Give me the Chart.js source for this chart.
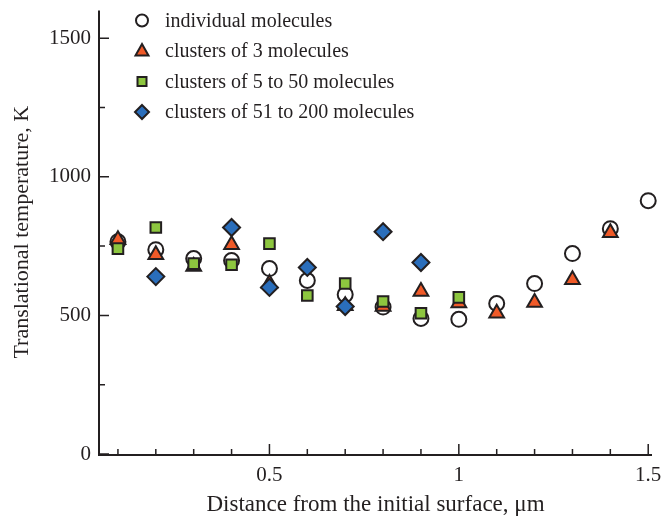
<!DOCTYPE html>
<html>
<head>
<meta charset="utf-8">
<script src="https://cdn.jsdelivr.net/npm/chart.js@4.4.0/dist/chart.umd.min.js"></script>
<style>
html, body { margin: 0; padding: 0; background: #fff; }
#wrap { width: 665px; height: 519px; }
</style>
</head>
<body>
<div id="wrap"><canvas id="chart"></canvas></div>
<script>
// Distance from the initial surface (um) and translational temperature (K)
const singleX = [0.1, 0.2, 0.3, 0.4, 0.5, 0.6, 0.7, 0.8, 0.9, 1.0, 1.1, 1.2, 1.3, 1.4, 1.5]
const singleT = [766, 737, 705, 698, 669, 626, 575, 530, 489, 486, 543, 615, 723, 813, 914]

const tripleX = [0.1, 0.2, 0.3, 0.4, 0.5, 0.7, 0.8, 0.9, 1.0, 1.1, 1.2, 1.3, 1.4]
const tripleT = [773, 719, 676, 755, 615, 535, 532, 586, 545, 508, 547, 629, 798]

const smallX = [0.1, 0.2, 0.3, 0.4, 0.5, 0.6, 0.7, 0.8, 0.9, 1.0]
const smallT = [741, 817, 687, 683, 759, 572, 615, 550, 508, 565]

const largeX = [0.2, 0.4, 0.5, 0.6, 0.7, 0.8, 0.9]
const largeT = [640, 817, 601, 673, 532, 802, 691]

const seriesNames = [
  'individual molecules',
  'clusters of 3 molecules',
  'clusters of 5 to 50 molecules',
  'clusters of 51 to 200 molecules'
]

const xMajorTicks = [0.5, 1, 1.5]
const xMinorTicks = [0.1, 0.2, 0.3, 0.4, 0.6, 0.7, 0.8, 0.9, 1.1, 1.2, 1.3, 1.4]
const yMajorTicks = [0, 500, 1000, 1500]
const yMinorTicks = [250, 750, 1250]

const FONT = '"Liberation Serif", "Times New Roman", serif'
const INK = '#231f20'
const colors = ['#ffffff', '#f05a28', '#8dc63f', '#2a6ebb']
const shapes = ['circle', 'triangle', 'rect', 'rectRot']
const radii = [7.5, 8.5, 7.5, 8.5]

function toPoints (xs, ys) {
  return xs.map((x, i) => ({ x: x, y: ys[i] }))
}

const seriesData = [
  toPoints(singleX, singleT),
  toPoints(tripleX, tripleT),
  toPoints(smallX, smallT),
  toPoints(largeX, largeT)
]

// circles at the bottom, diamonds on top
const datasets = seriesData.map((data, i) => ({
  label: seriesNames[i],
  data: data,
  pointStyle: shapes[i],
  pointRadius: radii[i],
  pointHoverRadius: radii[i],
  backgroundColor: colors[i],
  borderColor: INK,
  borderWidth: 2,
  clip: false,
  order: 4 - i
}))

// inward tick marks and a small legend inside the plot
const axisDecor = {
  id: 'axisDecor',
  afterDraw (chart) {
    const ctx = chart.ctx
    const xs = chart.scales.x
    const ys = chart.scales.y
    const area = chart.chartArea
    ctx.save()
    ctx.strokeStyle = INK
    ctx.lineWidth = 2

    ctx.beginPath()
    ctx.moveTo(area.left, area.top)
    ctx.lineTo(area.left, area.bottom + 1)
    ctx.lineTo(area.right, area.bottom + 1)
    ctx.stroke()

    ctx.lineWidth = 1.5
    ctx.beginPath()
    xMajorTicks.forEach(v => {
      const px = xs.getPixelForValue(v)
      ctx.moveTo(px, area.bottom)
      ctx.lineTo(px, area.bottom - 10)
    })
    xMinorTicks.forEach(v => {
      const px = xs.getPixelForValue(v)
      ctx.moveTo(px, area.bottom)
      ctx.lineTo(px, area.bottom - 5)
    })
    yMajorTicks.forEach(v => {
      const py = ys.getPixelForValue(v)
      ctx.moveTo(area.left, py)
      ctx.lineTo(area.left + 10, py)
    })
    yMinorTicks.forEach(v => {
      const py = ys.getPixelForValue(v)
      ctx.moveTo(area.left, py)
      ctx.lineTo(area.left + 6, py)
    })
    ctx.stroke()

    // Legend
    const lx = area.left + 43
    const tx = area.left + 66
    const rowTop = area.top + 10
    const rowGap = 30.5
    ctx.font = '20px ' + FONT
    ctx.textBaseline = 'middle'
    ctx.textAlign = 'left'
    seriesNames.forEach((name, i) => {
      const y = rowTop + i * rowGap
      ctx.lineWidth = 2
      ctx.strokeStyle = INK
      ctx.fillStyle = colors[i]
      ctx.beginPath()
      if (i === 0) {
        ctx.arc(lx, y, 6, 0, Math.PI * 2)
      } else if (i === 1) {
        ctx.moveTo(lx, y - 7)
        ctx.lineTo(lx + 6.5, y + 4.5)
        ctx.lineTo(lx - 6.5, y + 4.5)
        ctx.closePath()
      } else if (i === 2) {
        ctx.rect(lx - 4.5, y - 4.5, 9, 9)
      } else {
        ctx.moveTo(lx, y - 7)
        ctx.lineTo(lx + 7, y)
        ctx.lineTo(lx, y + 7)
        ctx.lineTo(lx - 7, y)
        ctx.closePath()
      }
      ctx.fill()
      ctx.stroke()
      ctx.fillStyle = INK
      ctx.fillText(name, tx, y + 1)
    })
    ctx.restore()
  }
}

new Chart(document.getElementById('chart'), {
  type: 'scatter',
  data: { datasets: datasets },
  plugins: [axisDecor],
  options: {
    responsive: true,
    maintainAspectRatio: false,
    animation: false,
    layout: {
      padding: { top: 10, right: 13, left: 0, bottom: 0 }
    },
    plugins: {
      legend: { display: false },
      tooltip: { enabled: false }
    },
    scales: {
      x: {
        type: 'linear',
        min: 0.05,
        max: 1.51,
        afterBuildTicks: (scale) => {
          scale.ticks = xMajorTicks.map(v => ({ value: v }))
        },
        afterFit: (scale) => {
          scale.height = 65
          scale.paddingLeft = 0
          scale.paddingRight = 0
        },
        grid: { display: false, drawTicks: false },
        border: { display: false },
        ticks: {
          color: INK,
          padding: 9,
          font: { family: FONT, size: 21 },
          callback: (v) => String(v)
        },
        title: {
          display: true,
          text: 'Distance from the initial surface, \u03bcm',
          color: INK,
          font: { family: FONT, size: 23 },
          padding: { top: 0, bottom: 0 }
        }
      },
      y: {
        type: 'linear',
        min: 0,
        max: 1600,
        afterBuildTicks: (scale) => {
          scale.ticks = yMajorTicks.map(v => ({ value: v }))
        },
        afterFit: (scale) => {
          scale.width = 99
          scale.paddingTop = 0
          scale.paddingBottom = 0
        },
        grid: { display: false, drawTicks: false },
        border: { display: false },
        ticks: {
          color: INK,
          padding: 8,
          font: { family: FONT, size: 21 },
          callback: (v) => String(v)
        },
        title: {
          display: true,
          text: 'Translational temperature, K',
          color: INK,
          font: { family: FONT, size: 22 },
          padding: { top: 9, bottom: 0 }
        }
      }
    }
  }
})
</script>
</body>
</html>
